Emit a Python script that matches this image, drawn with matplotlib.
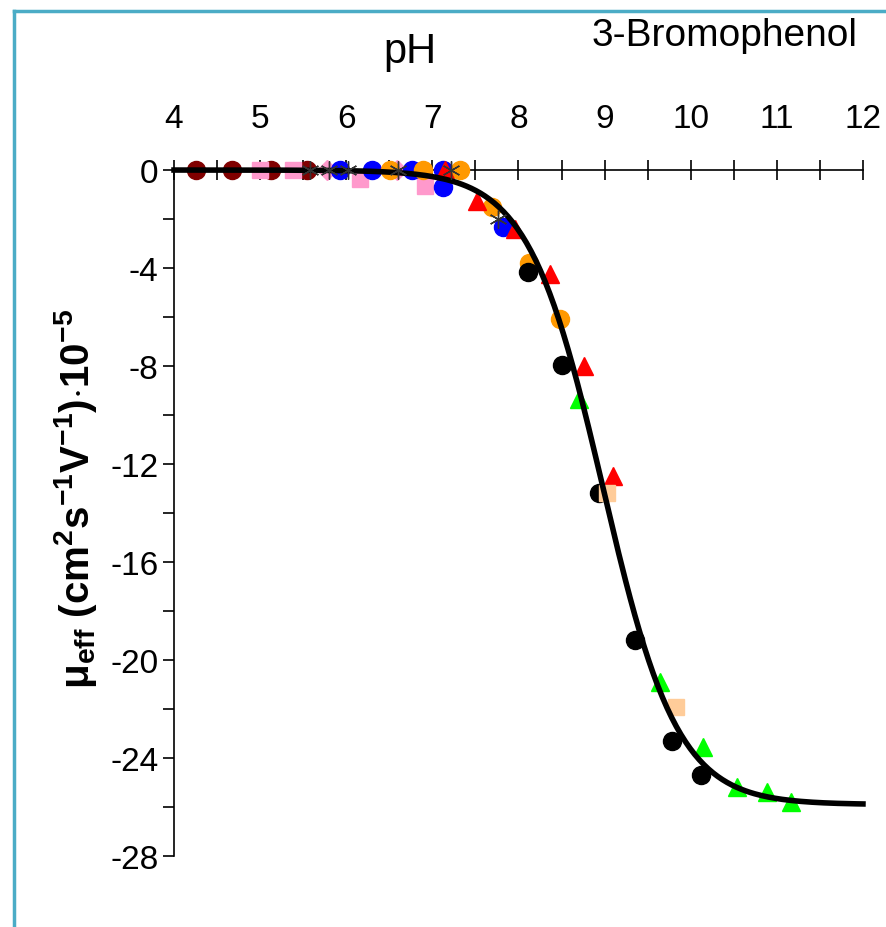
import numpy as np
import matplotlib.pyplot as plt
from matplotlib.lines import Line2D

plt.rcParams['font.family'] = ['Liberation Sans', 'DejaVu Sans']
plt.rcParams['mathtext.fontset'] = 'custom'
plt.rcParams['mathtext.rm'] = 'Liberation Sans:bold'
plt.rcParams['mathtext.bf'] = 'Liberation Sans:bold'
plt.rcParams['mathtext.default'] = 'bf'
plt.rcParams['axes.unicode_minus'] = False

# data (pH, effective mobility x 1e-5)
maroon_ph = [4.26, 4.67, 5.13, 5.55]
maroon_mu = [0, 0, 0, 0]
pink_ph = [5.00, 5.38, 6.16, 6.92]
pink_mu = [0, 0, -0.35, -0.65]
pinkx_ph = [5.78, 6.59]
pinkx_mu = [0, 0]
blue_ph = [5.93, 6.30, 6.76, 7.12, 7.12, 7.82]
blue_mu = [0, 0, 0, 0, -0.7, -2.33]
orange_ph = [6.51, 6.89, 7.32, 7.69, 8.12, 8.48]
orange_mu = [0, 0, 0, -1.5, -3.8, -6.1]
star_ph = [5.58, 5.80, 6.02, 6.60, 7.22, 7.76]
star_mu = [0, 0, 0, 0, 0, -2.0]
red_ph = [7.15, 7.52, 7.96, 8.37, 8.76, 9.10]
red_mu = [0, -1.27, -2.4, -4.25, -8.0, -12.5]
black_ph = [8.11, 8.51, 8.94, 9.35, 9.78, 10.12]
black_mu = [-4.16, -7.96, -13.2, -19.2, -23.3, -24.7]
green_ph = [8.70, 9.64, 10.14, 10.54, 10.89, 11.17]
green_mu = [-9.35, -20.9, -23.55, -25.2, -25.4, -25.8]
peach_ph = [9.03, 9.83]
peach_mu = [-13.2, -21.9]

# fitted sigmoid
pka = 8.98
mu_lim = -25.9
fit_ph = np.linspace(4, 12, 300)
fit_mu = mu_lim / (1 + 10 ** (pka - fit_ph))

fig = plt.figure(figsize=(8.86, 9.28), dpi=100)
ax = fig.add_axes([0.1964, 0.0765, 0.7776, 0.7392])

ms = 13
kw = dict(zorder=3, clip_on=False)
ax.plot(maroon_ph, maroon_mu, 'o', color='#800000', ms=ms, **kw)
ax.plot(pink_ph, pink_mu, 's', color='#FF99CC', ms=ms - 1, **kw)
ax.plot(pinkx_ph, pinkx_mu, 'D', color='#FF99CC', ms=ms - 3, **kw)
ax.plot(blue_ph, blue_mu, 'o', color='#0000FF', ms=ms, **kw)
ax.plot(orange_ph, orange_mu, 'o', color='#FF9900', ms=ms, **kw)
ax.plot(star_ph, star_mu, marker=(6, 2, 0), ls='none', color='#333333', ms=ms,
        mew=1, zorder=4, clip_on=False)
ax.plot(red_ph, red_mu, '^', color='#FF0000', ms=ms, **kw)
ax.plot(black_ph, black_mu, 'o', color='black', ms=ms, **kw)
ax.plot(green_ph, green_mu, '^', color='#00FF00', ms=ms, **kw)
ax.plot(peach_ph, peach_mu, 's', color='#FFCC99', ms=ms - 1, **kw)
ax.plot(fit_ph, fit_mu, color='black', lw=4, zorder=3.5, clip_on=False)

ax.set_xlim(4, 12)
ax.set_ylim(-28, 0)
ax.spines['bottom'].set_visible(False)
ax.spines['right'].set_visible(False)
for s in ['top', 'left']:
    ax.spines[s].set_linewidth(1.2)
ax.spines['top'].set_zorder(2)
ax.xaxis.tick_top()
ax.set_xticks(np.arange(4, 13, 1))
ax.set_xticks(np.arange(4.5, 12, 1), minor=True)
ax.set_yticks(np.arange(-28, 1, 4))
ax.set_yticks(np.arange(-26, 0, 4), minor=True)
ax.tick_params(axis='x', which='both', direction='inout', length=14, width=1.2,
               labelsize=24, pad=19)
ax.tick_params(axis='y', which='both', direction='out', length=8, width=1.2,
               labelsize=24, pad=3)

fig.text(0.463, 0.944, 'pH', ha='center', va='center', fontsize=30)
fig.text(0.818, 0.961, '3-Bromophenol', ha='center', va='center', fontsize=28)
fig.text(0.085, 0.462,
         r'$\mu_{eff}$ (cm$^{2}$s$^{-1}$V$^{-1}$)$\cdot$10$^{-5}$',
         rotation=90, ha='center', va='center', fontsize=29, fontweight='bold')

# frame lines
bc = '#4BACC6'
fig.add_artist(Line2D([14 / 886, 14 / 886], [0, 1 - 12 / 928], color=bc, lw=2.5))
fig.add_artist(Line2D([14 / 886, 1], [1 - 12 / 928, 1 - 12 / 928], color=bc, lw=2.5))

fig.savefig('out.png', dpi=100)
